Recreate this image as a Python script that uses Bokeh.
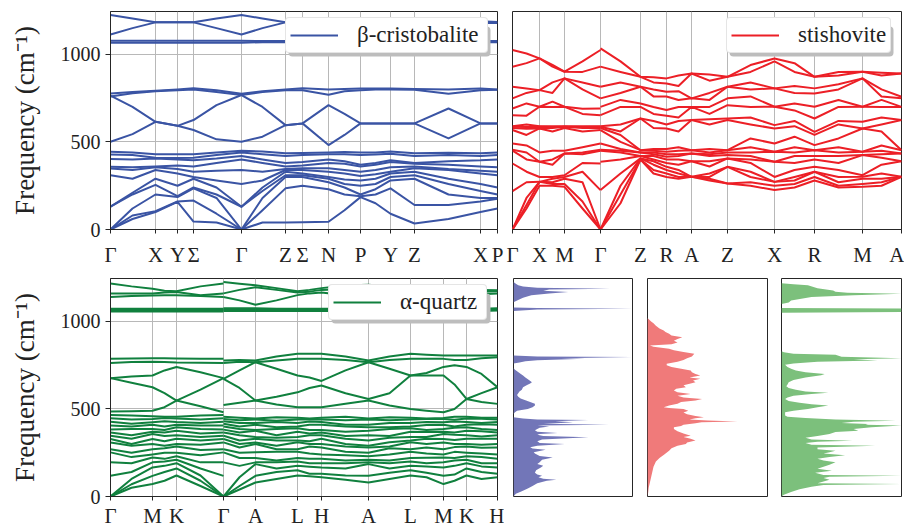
from bokeh.plotting import figure
from bokeh.layouts import column, row
from bokeh.models import Range1d, FixedTicker, Legend, LegendItem, BoxAnnotation
from bokeh.embed import file_html
from bokeh.resources import INLINE

FMAX = 1245
SERIF = "Liberation Serif"

# ---------------- beta-cristobalite (band-wise) ----------------
cristo_ticks = [0, 45, 67, 83, 131, 175, 192, 218, 250, 280, 304, 370, 387]
cristo_labels = ["Γ", "X", "Y", "Σ", "Γ", "Z", "Σ", "N", "P", "Y", "Z", "X", "P"]
cristo_k = [0, 22, 45, 67, 83, 106, 131, 152, 175, 192, 218, 234, 250, 265, 280, 304, 338, 370, 387]
cristo_bands = [
    [1225, 1205, 1183, 1183, 1183, 1205, 1225, 1205, 1183, 1185, 1185, 1188, 1190, 1195, 1195, 1190, 1195, 1190, 1185],
    [1114, 1150, 1183, 1183, 1183, 1150, 1114, 1150, 1183, 1180, 1180, 1180, 1180, 1180, 1180, 1180, 1178, 1180, 1180],
    [1078, 1078, 1078, 1078, 1078, 1078, 1078, 1076, 1076, 1076, 1076, 1076, 1076, 1076, 1076, 1076, 1076, 1076, 1076],
    [1066, 1066, 1066, 1066, 1066, 1066, 1066, 1070, 1070, 1070, 1070, 1070, 1070, 1070, 1070, 1070, 1070, 1070, 1070],
    [777, 785, 792, 800, 806, 795, 775, 790, 800, 806, 800, 803, 805, 805, 805, 803, 800, 805, 800],
    [760, 778, 790, 795, 800, 785, 768, 785, 795, 795, 770, 790, 795, 800, 800, 798, 775, 795, 798],
    [764, 700, 615, 592, 625, 710, 768, 700, 596, 606, 710, 660, 606, 606, 606, 606, 691, 606, 606],
    [501, 545, 615, 592, 568, 515, 501, 530, 596, 606, 482, 540, 606, 606, 606, 606, 520, 606, 606],
    [444, 440, 430, 430, 430, 440, 450, 445, 435, 437, 440, 442, 440, 440, 445, 435, 438, 435, 440],
    [429, 425, 410, 408, 410, 425, 440, 430, 420, 425, 430, 430, 425, 428, 432, 420, 425, 420, 425],
    [402, 400, 405, 400, 395, 405, 420, 400, 380, 385, 400, 390, 370, 380, 395, 380, 390, 395, 400],
    [358, 355, 360, 365, 360, 380, 400, 380, 360, 365, 380, 375, 360, 370, 385, 375, 370, 360, 355],
    [349, 340, 355, 345, 330, 335, 340, 330, 345, 350, 350, 340, 330, 340, 355, 360, 345, 335, 330],
    [310, 290, 340, 320, 300, 280, 260, 280, 340, 340, 330, 320, 305, 315, 330, 350, 340, 320, 310],
    [130, 210, 290, 250, 290, 240, 130, 240, 330, 320, 300, 285, 280, 290, 320, 330, 290, 260, 240],
    [130, 200, 255, 190, 240, 200, 130, 220, 310, 310, 290, 260, 250, 260, 300, 310, 260, 220, 200],
    [0, 120, 200, 185, 235, 180, 0, 180, 300, 300, 270, 240, 200, 230, 280, 290, 200, 180, 180],
    [0, 80, 105, 160, 165, 90, 0, 110, 235, 250, 230, 200, 190, 200, 235, 140, 140, 160, 175],
    [0, 60, 100, 158, 45, 40, 0, 40, 40, 42, 44, 110, 185, 150, 90, 34, 60, 100, 120],
]

# ---------------- stishovite (frequencies at each k point) ----------------
sti_ticks = [0, 27, 52, 88, 128, 154, 179, 215, 262, 302, 350, 389]
sti_labels = ["Γ", "X", "M", "Γ", "Z", "R", "A", "Z", "X", "R", "M", "A"]
sti_kA = [0, 14, 27, 40, 52, 70, 88]
sti_fA = [
    [1025, 930, 815, 749, 691, 653, 590, 587, 580, 568, 491, 455, 450, 377, 219, 0, 0, 0],
    [1005, 950, 805, 780, 720, 650, 600, 585, 575, 540, 480, 440, 400, 330, 270, 180, 140, 120],
    [977, 977, 796, 796, 701, 701, 590, 587, 577, 577, 440, 387, 387, 300, 272, 272, 272, 250],
    [940, 930, 840, 780, 730, 700, 590, 585, 580, 560, 450, 400, 370, 300, 290, 270, 260, 250],
    [901, 901, 863, 863, 701, 701, 590, 587, 587, 580, 450, 434, 434, 310, 300, 290, 260, 244],
    [960, 900, 840, 800, 690, 660, 590, 585, 580, 560, 470, 440, 430, 380, 330, 270, 160, 120],
    [1025, 930, 815, 749, 691, 653, 590, 587, 580, 568, 491, 455, 450, 377, 225, 0, 0, 0],
]
sti_kB = [88, 108, 128, 141, 154, 166, 179, 197, 215, 238, 262, 282, 302, 326, 350, 369, 389]
sti_fB = [
    [1034, 930, 815, 749, 700, 653, 590, 587, 580, 568, 491, 455, 450, 387, 225, 0, 0, 0],
    [960, 900, 840, 780, 740, 700, 600, 560, 540, 500, 460, 450, 440, 400, 320, 250, 200, 150],
    [872, 872, 815, 815, 720, 700, 634, 634, 453, 453, 440, 440, 420, 420, 406, 406, 400, 400],
    [870, 840, 800, 760, 700, 660, 620, 580, 460, 450, 440, 430, 420, 400, 390, 370, 340, 320],
    [863, 834, 787, 760, 682, 650, 600, 577, 460, 444, 430, 415, 400, 380, 358, 340, 320, 300],
    [880, 820, 790, 740, 700, 640, 620, 560, 470, 450, 430, 420, 400, 370, 340, 320, 300, 290],
    [891, 891, 749, 749, 700, 700, 625, 625, 453, 453, 434, 434, 390, 390, 301, 301, 301, 301],
    [885, 850, 780, 740, 700, 660, 630, 600, 460, 440, 430, 420, 390, 360, 320, 300, 290, 280],
    [872, 872, 815, 815, 749, 710, 634, 625, 453, 453, 440, 425, 406, 406, 358, 358, 263, 263],
    [939, 900, 840, 800, 760, 700, 640, 600, 520, 470, 440, 420, 400, 380, 330, 300, 270, 250],
    [977, 960, 806, 806, 701, 701, 596, 577, 491, 444, 444, 387, 387, 300, 272, 272, 250, 225],
    [950, 900, 820, 780, 720, 680, 620, 590, 530, 470, 440, 420, 380, 340, 300, 280, 260, 240],
    [872, 872, 806, 777, 701, 634, 558, 540, 482, 453, 453, 420, 400, 358, 330, 330, 300, 280],
    [900, 880, 830, 800, 740, 700, 620, 600, 520, 470, 440, 420, 380, 340, 300, 270, 250, 240],
    [901, 901, 863, 863, 701, 701, 615, 577, 577, 444, 444, 425, 425, 310, 301, 290, 260, 244],
    [895, 880, 800, 760, 740, 700, 640, 600, 560, 480, 450, 430, 410, 370, 320, 290, 270, 250],
    [891, 891, 758, 749, 700, 700, 625, 625, 453, 453, 434, 434, 390, 390, 301, 301, 301, 301],
]

# ---------------- alpha-quartz (frequencies at each k point) ----------------
qz_ticks = [0, 42, 66, 113, 145, 187, 211, 258, 300, 333, 356, 387]
qz_labels = ["Γ", "M", "K", "Γ", "A", "L", "H", "A", "L", "M", "K", "H"]
qz_kA = [0, 21, 42, 54, 66, 90, 113]
qz_highA = [
    [1216, 1160, 1139, 1072, 1065, 1057], [1200, 1160, 1145, 1072, 1065, 1057],
    [1187, 1160, 1148, 1072, 1065, 1057], [1175, 1165, 1150, 1072, 1065, 1057],
    [1172, 1168, 1150, 1072, 1065, 1057], [1200, 1150, 1145, 1072, 1065, 1057],
    [1216, 1160, 1139, 1072, 1065, 1057],
]
qz_midA = [
    [786, 763, 676, 676, 485], [788, 768, 685, 650, 487], [790, 770, 691, 624, 490],
    [789, 768, 720, 590, 510], [788, 765, 740, 548, 548], [787, 764, 710, 610, 515],
    [786, 763, 676, 676, 481],
]
qz_lowA = [
    [466, 447, 427, 405, 382, 365, 347, 328, 309, 270, 252, 195, 118, 0, 0, 0],
    [462, 440, 415, 400, 385, 350, 330, 300, 290, 250, 225, 190, 140, 100, 70, 50],
    [458, 443, 424, 410, 385, 370, 357, 328, 300, 270, 240, 223, 195, 166, 118, 71],
    [455, 448, 430, 400, 380, 365, 345, 315, 290, 275, 250, 215, 200, 175, 140, 90],
    [455, 445, 425, 410, 395, 375, 350, 330, 300, 285, 250, 230, 210, 190, 160, 120],
    [462, 440, 420, 405, 385, 360, 340, 320, 295, 265, 235, 195, 160, 120, 90, 60],
    [466, 447, 427, 405, 382, 365, 347, 328, 309, 270, 252, 195, 118, 0, 0, 0],
]
qz_kB = [113, 129, 145, 166, 187, 199, 211, 235, 258, 279, 300, 316, 333, 344, 356, 371, 387]
qz_highB = [
    [1225, 1160, 1139, 1075, 1068, 1060], [1215, 1180, 1120, 1075, 1068, 1060],
    [1206, 1195, 1095, 1075, 1068, 1060], [1190, 1180, 1120, 1072, 1066, 1060],
    [1172, 1165, 1150, 1072, 1066, 1060], [1180, 1170, 1160, 1072, 1066, 1060],
    [1190, 1180, 1165, 1072, 1066, 1060], [1205, 1185, 1150, 1072, 1066, 1060],
    [1210, 1195, 1140, 1072, 1066, 1060], [1200, 1185, 1150, 1072, 1066, 1060],
    [1190, 1180, 1160, 1072, 1066, 1060], [1188, 1178, 1160, 1072, 1066, 1060],
    [1187, 1175, 1160, 1072, 1066, 1060], [1180, 1170, 1160, 1072, 1066, 1060],
    [1175, 1170, 1160, 1072, 1066, 1060], [1180, 1170, 1155, 1072, 1066, 1060],
    [1178, 1172, 1160, 1075, 1068, 1062],
]
qz_midB = [
    [777, 763, 672, 672, 523], [780, 770, 720, 620, 535], [777, 767, 767, 548, 548],
    [800, 777, 730, 570, 525], [815, 786, 691, 595, 510], [815, 786, 680, 620, 510],
    [815, 786, 660, 634, 510], [800, 780, 720, 590, 530], [777, 767, 767, 557, 548],
    [800, 780, 730, 590, 520], [815, 786, 691, 691, 500], [810, 786, 705, 691, 490],
    [805, 786, 740, 691, 481], [805, 780, 750, 640, 500], [805, 780, 740, 557, 557],
    [805, 790, 700, 590, 540], [805, 795, 624, 624, 529],
]
qz_lowB = [
    [455, 443, 430, 415, 400, 382, 365, 347, 328, 309, 270, 252, 195, 0, 0, 0],
    [450, 436, 420, 400, 385, 365, 350, 320, 300, 280, 250, 220, 175, 110, 60, 40],
    [445, 440, 420, 410, 380, 376, 340, 330, 309, 300, 252, 220, 195, 185, 118, 80],
    [452, 432, 425, 395, 385, 350, 335, 320, 290, 270, 255, 205, 195, 160, 140, 100],
    [450, 440, 420, 400, 390, 370, 340, 320, 310, 270, 255, 220, 200, 175, 150, 120],
    [445, 440, 428, 410, 380, 360, 350, 315, 300, 285, 245, 215, 190, 170, 130, 115],
    [450, 440, 425, 410, 380, 365, 350, 330, 300, 280, 240, 215, 190, 165, 130, 110],
    [455, 435, 410, 400, 370, 345, 330, 300, 285, 255, 235, 205, 190, 160, 120, 95],
    [445, 440, 410, 395, 376, 350, 320, 290, 280, 250, 230, 210, 195, 185, 118, 80],
    [452, 436, 420, 395, 385, 345, 335, 310, 285, 275, 240, 205, 190, 160, 135, 100],
    [450, 440, 420, 400, 390, 370, 340, 320, 310, 270, 255, 220, 200, 175, 150, 120],
    [446, 442, 425, 408, 380, 368, 340, 330, 300, 280, 245, 222, 190, 172, 135, 110],
    [448, 443, 424, 410, 385, 370, 357, 328, 309, 270, 240, 223, 195, 166, 118, 71],
    [455, 438, 428, 400, 392, 365, 352, 322, 300, 282, 255, 220, 205, 175, 125, 90],
    [455, 445, 425, 410, 395, 375, 350, 330, 300, 285, 250, 230, 210, 190, 160, 120],
    [450, 444, 420, 412, 385, 372, 342, 330, 295, 278, 245, 225, 190, 172, 140, 100],
    [450, 440, 425, 410, 380, 365, 350, 330, 300, 280, 240, 215, 190, 165, 130, 110],
]

# ---------------- densities of states (frequency, relative DOS) ----------------
dos_cristo_f = [0, 15, 30, 45, 60, 75, 90, 95, 102, 110, 118, 125, 135, 150, 165, 176, 185, 195, 210, 223,
                232, 245, 252, 260, 267, 274, 281, 290, 300, 306, 315, 325, 338, 345, 352, 357, 363, 370, 378,
                385, 393, 400, 405, 410, 415, 420, 424, 430, 437, 440, 445, 452, 470, 480, 490, 500, 510, 520,
                529, 540, 550, 560, 570, 580, 590, 600, 610, 624, 635, 645, 653, 665, 680, 691, 705, 715, 725,
                735, 760, 765, 772, 778, 786, 790, 796, 800, 805, 1060, 1068, 1072, 1076, 1080, 1110, 1120,
                1135, 1149, 1160, 1168, 1175, 1182, 1187, 1192, 1200, 1206, 1215, 1225]
dos_cristo_v = [0.0, 0.02, 0.07, 0.12, 0.16, 0.20, 0.28, 0.36, 0.25, 0.21, 0.24, 0.20, 0.18, 0.19, 0.23, 0.25,
                0.20, 0.22, 0.24, 0.33, 0.22, 0.18, 0.17, 0.22, 0.27, 0.16, 0.14, 0.20, 0.43, 0.22, 0.20, 0.24,
                0.63, 0.25, 0.20, 0.22, 0.37, 0.20, 0.18, 0.20, 0.22, 0.30, 0.20, 0.80, 0.25, 0.40, 0.50, 0.35,
                0.63, 0.20, 0.08, 0.0, 0.0, 0.01, 0.03, 0.12, 0.16, 0.18, 0.18, 0.14, 0.10, 0.06, 0.04, 0.03,
                0.04, 0.05, 0.07, 0.08, 0.11, 0.14, 0.155, 0.13, 0.10, 0.08, 0.05, 0.03, 0.01, 0.0, 0.0, 0.05,
                0.10, 0.20, 0.60, 0.40, 1.0, 0.20, 0.0, 0.0, 0.20, 1.0, 0.20, 0.0, 0.0, 0.03, 0.08, 0.15, 0.30,
                0.46, 0.25, 0.30, 0.81, 0.20, 0.08, 0.04, 0.02, 0.0]

dos_sti_f = [0, 20, 50, 80, 110, 140, 170, 200, 220, 240, 261, 275, 290, 300, 309, 320, 330, 340, 347, 360,
             372, 385, 395, 402, 410, 418, 424, 429, 434, 440, 447, 452, 460, 470, 480, 490, 500, 505, 510, 520,
             530, 540, 548, 557, 565, 575, 586, 595, 605, 615, 624, 635, 645, 653, 662, 672, 680, 691, 700, 710,
             719, 730, 740, 750, 758, 770, 780, 790, 800, 815, 825, 835, 844, 855, 863, 870, 880, 890, 900, 910,
             920, 930, 940, 948, 960, 975, 990, 1000, 1010, 1019]
dos_sti_v = [0.0, 0.005, 0.01, 0.02, 0.03, 0.04, 0.05, 0.07, 0.10, 0.14, 0.18, 0.20, 0.25, 0.32, 0.33, 0.40,
             0.36, 0.30, 0.36, 0.30, 0.25, 0.22, 0.22, 0.28, 0.30, 0.40, 0.45, 0.75, 0.50, 0.35, 0.40, 0.47,
             0.40, 0.33, 0.30, 0.34, 0.30, 0.18, 0.135, 0.18, 0.25, 0.28, 0.40, 0.455, 0.30, 0.25, 0.36, 0.25,
             0.22, 0.24, 0.32, 0.30, 0.36, 0.40, 0.38, 0.44, 0.35, 0.44, 0.40, 0.37, 0.36, 0.28, 0.20, 0.16,
             0.16, 0.25, 0.30, 0.33, 0.37, 0.39, 0.30, 0.22, 0.18, 0.05, 0.02, 0.20, 0.25, 0.22, 0.25, 0.29,
             0.20, 0.18, 0.15, 0.135, 0.10, 0.07, 0.05, 0.03, 0.015, 0.0]

dos_qz_f = [0, 10, 25, 42, 55, 65, 71, 76, 85, 95, 105, 113, 118, 123, 135, 147, 158, 170, 182, 195, 205, 215,
            225, 235, 245, 253, 261, 270, 280, 290, 296, 305, 312, 319, 325, 335, 345, 357, 368, 376, 385, 395,
            405, 410, 414, 420, 427, 433, 440, 448, 455, 462, 470, 481, 490, 500, 510, 519, 527, 535, 545, 557,
            565, 575, 585, 592, 600, 610, 620, 630, 640, 653, 665, 680, 692, 700, 710, 720, 730, 739, 752, 760,
            770, 777, 784, 790, 798, 809, 815, 824, 830, 1050, 1053, 1074, 1077, 1100, 1108, 1120, 1139, 1149,
            1158, 1163, 1170, 1177, 1190, 1206, 1212, 1218]
dos_qz_v = [0.0, 0.02, 0.08, 0.15, 0.25, 0.35, 1.0, 0.30, 0.35, 0.40, 0.35, 0.40, 1.0, 0.35, 0.28, 0.42, 0.30,
            0.35, 0.40, 0.45, 0.35, 0.30, 0.40, 0.53, 0.35, 0.40, 0.45, 0.30, 0.30, 0.78, 0.25, 0.20, 0.30, 0.59,
            0.25, 0.20, 0.30, 0.40, 0.45, 0.64, 0.60, 0.75, 1.0, 0.70, 0.72, 0.50, 0.60, 0.95, 0.45, 0.20, 0.05,
            0.03, 0.03, 0.03, 0.10, 0.22, 0.30, 0.39, 0.25, 0.15, 0.06, 0.03, 0.05, 0.10, 0.25, 0.39, 0.20, 0.12,
            0.06, 0.04, 0.05, 0.06, 0.10, 0.20, 0.33, 0.36, 0.20, 0.12, 0.08, 0.05, 0.03, 0.10, 0.30, 0.80, 0.60,
            1.0, 0.50, 0.45, 0.10, 0.02, 0.0, 0.0, 1.0, 1.0, 0.0, 0.0, 0.06, 0.08, 0.25, 0.60, 1.0, 0.55, 0.45,
            0.43, 0.30, 0.22, 0.10, 0.0]

BLUE, RED, GREEN = "#3A54A4", "#EC1F26", "#10803E"
DOS_BLUE, DOS_RED, DOS_GREEN = "#7276B8", "#F07A7A", "#7CC07C"
FRAME = "#262626"
GRIDC = "#B8B8B8"
TXT = "#222222"
FRAME_H = 218


def band_fig(fw, xmax, ticks, labels, ml, mr, mt, mb, show_y, label_standoff):
    p = figure(frame_width=fw, frame_height=FRAME_H, x_range=Range1d(0, xmax), y_range=Range1d(0, FMAX),
               output_backend="svg", toolbar_location=None,
               y_axis_location=("left" if show_y else None),
               min_border_left=ml, min_border_right=mr, min_border_top=mt, min_border_bottom=mb)
    p.background_fill_color = "white"
    p.border_fill_color = "white"
    p.outline_line_color = FRAME
    p.outline_line_width = 1
    xa = p.xaxis[0]
    xa.ticker = FixedTicker(ticks=ticks)
    xa.major_label_overrides = {t: l for t, l in zip(ticks, labels)}
    xa.major_label_text_font = SERIF
    xa.major_label_text_font_size = "21px"
    xa.major_label_text_color = TXT
    xa.major_tick_in = 0
    xa.major_tick_out = 4
    xa.major_label_standoff = label_standoff
    xa.minor_tick_line_color = None
    xa.axis_line_color = FRAME
    xa.major_tick_line_color = FRAME
    p.xgrid.grid_line_color = GRIDC
    p.xgrid.grid_line_width = 1
    if show_y:
        ya = p.yaxis[0]
        ya.ticker = FixedTicker(ticks=[0, 500, 1000])
        ya.major_label_text_font = SERIF
        ya.major_label_text_font_size = "20px"
        ya.major_label_text_color = TXT
        ya.major_tick_in = 0
        ya.major_tick_out = 5
        ya.major_label_standoff = 5
        ya.minor_tick_line_color = None
        ya.axis_line_color = FRAME
        ya.major_tick_line_color = FRAME
        ya.axis_label = "Frequency (cm⁻¹)"
        ya.axis_label_text_font = SERIF
        ya.axis_label_text_font_size = "27px"
        ya.axis_label_text_font_style = "normal"
        ya.axis_label_text_color = TXT
        ya.axis_label_standoff = 18
        p.ygrid.ticker = FixedTicker(ticks=[0, 500, 1000])
        p.ygrid.grid_line_color = GRIDC
        p.ygrid.grid_line_width = 1
    else:
        p.ygrid.visible = False
    return p


def add_legend(p, r, text, frame_left, frame_top, loc, box_w, box_h=30, lw=None):
    # soft drop shadow behind the legend box (canvas pixel units)
    left = frame_left + loc[0]
    bottom = frame_top + FRAME_H - loc[1]
    shadow = BoxAnnotation(left=left + 3, right=left + box_w + 3, top=bottom - box_h + 3, bottom=bottom + 3,
                           left_units="canvas", right_units="canvas", top_units="canvas", bottom_units="canvas",
                           fill_color="#BDBDBD", fill_alpha=1.0, line_color=None, level="annotation")
    try:
        shadow.border_radius = 4
    except Exception:
        pass
    p.add_layout(shadow)
    leg = Legend(items=[LegendItem(label=text, renderers=[r])], location=loc,
                 label_text_font=SERIF, label_text_font_size="23px", label_text_color=TXT,
                 glyph_width=48, glyph_height=22, label_standoff=19, label_width=lw, label_height=22,
                 padding=4, margin=0, spacing=0,
                 border_line_color="#CCCCCC", border_line_width=1,
                 background_fill_color="white", background_fill_alpha=1.0)
    try:
        leg.border_radius = 4
    except Exception:
        pass
    p.add_layout(leg)


def parts_to_lines(parts):
    xs, ys = [], []
    for kx, rows in parts:
        for j in range(len(rows[0])):
            xs.append(kx)
            ys.append([r[j] for r in rows])
    return xs, ys


# top-left : beta-cristobalite
p1 = band_fig(387, 387, cristo_ticks, cristo_labels, 110, 7, 11, 45, True, 9)
r1 = p1.multi_line([cristo_k] * len(cristo_bands), cristo_bands, line_color=BLUE, line_width=2,
                   line_join="round")
add_legend(p1, r1, "β-cristobalite", 110, 11, (175, 176), 202, lw=126)

# top-right : stishovite
p2 = band_fig(389, 389, sti_ticks, sti_labels, 8, 3, 11, 45, False, 9)
xs2, ys2 = parts_to_lines([(sti_kA, sti_fA), (sti_kB, sti_fB)])
r2 = p2.multi_line(xs2, ys2, line_color=RED, line_width=2, line_join="round")
add_legend(p2, r2, "stishovite", 8, 11, (214, 176), 164, lw=88)

# bottom-left : alpha-quartz
qz_A = [h + m + l for h, m, l in zip(qz_highA, qz_midA, qz_lowA)]
qz_B = [h + m + l for h, m, l in zip(qz_highB, qz_midB, qz_lowB)]
p3 = band_fig(387, 387, qz_ticks, qz_labels, 110, 7, 4, 30, True, 3)
xs3, ys3 = parts_to_lines([(qz_kA, qz_A), (qz_kB, qz_B)])
r3 = p3.multi_line(xs3, ys3, line_color=GREEN, line_width=2, line_join="round")
add_legend(p3, r3, "α-quartz", 110, 4, (218, 176), 159, lw=82)


def dos_fig(fw, ml, mr, f, v, color):
    p = figure(frame_width=fw, frame_height=FRAME_H, x_range=Range1d(0, 1), y_range=Range1d(0, FMAX),
               output_backend="svg", toolbar_location=None, x_axis_location=None, y_axis_location=None,
               min_border_left=ml, min_border_right=mr, min_border_top=4, min_border_bottom=30)
    p.grid.visible = False
    p.outline_line_color = FRAME
    p.outline_line_width = 1
    p.background_fill_color = "white"
    p.border_fill_color = "white"
    p.harea(x1=0, x2=v, y=f, fill_color=color, fill_alpha=1.0)
    return p


d1 = dos_fig(119, 9, 7, dos_cristo_f, dos_cristo_v, DOS_BLUE)
d2 = dos_fig(120, 8, 7, dos_sti_f, dos_sti_v, DOS_RED)
d3 = dos_fig(120, 7, 3, dos_qz_f, dos_qz_v, DOS_GREEN)

layout = column(row(p1, p2, spacing=0), row(p3, d1, d2, d3, spacing=0), spacing=0)

open("out.html", "w").write(file_html(layout, INLINE))
